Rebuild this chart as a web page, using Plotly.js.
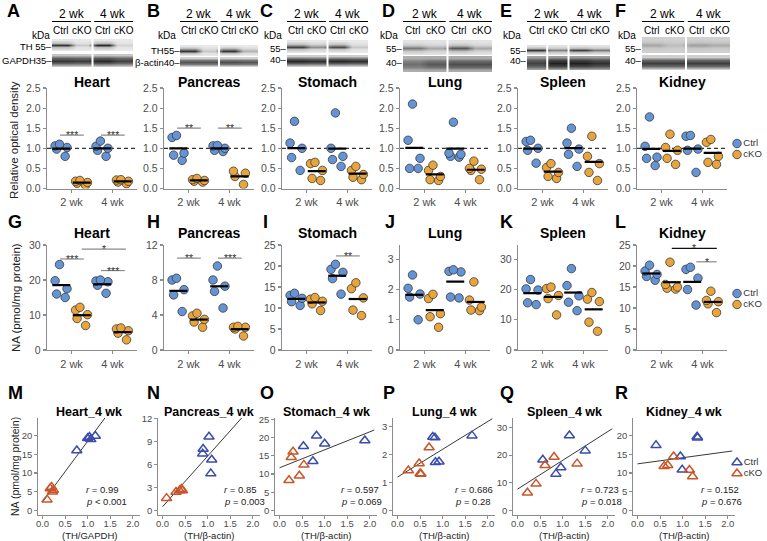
<!DOCTYPE html>
<html><head><meta charset="utf-8">
<script src="https://cdn.plot.ly/plotly-3.0.1.min.js"></script>
<style>html,body{margin:0;padding:0;background:#fff}#chart{width:767px;height:541px}</style>
</head><body><div id="chart"></div>
<script>
// ---------------- DATA ----------------
const organs = ["Heart","Pancreas","Stomach","Lung","Spleen","Kidney"];
const weeks = ["2 wk","4 wk"];
const groups = ["Ctrl","cKO"];
const blotLabels = ["A","B","C","D","E","F"];
const naLabels = ["G","H","I","J","K","L"];
const corrLabels = ["M","N","O","P","Q","R"];
const corrXTitles = ["(TH/GAPDH)","(TH/β-actin)","(TH/β-actin)","(TH/β-actin)","(TH/β-actin)","(TH/β-actin)"];

// Relative optical density (A-F): [Ctrl 2wk, cKO 2wk, Ctrl 4wk, cKO 4wk]
const odHeart    = [[1.10,1.06,1.02,0.98,0.80],[0.20,0.18,0.15,0.13,0.08],[1.18,1.05,1.00,0.95,0.80],[0.22,0.21,0.18,0.16,0.12]];
const odPancreas = [[1.32,1.27,0.88,0.83,0.70],[0.25,0.22,0.20,0.18,0.16],[1.07,1.06,1.00,0.95,0.92],[0.43,0.38,0.30,0.10]];
const odStomach  = [[1.67,1.13,1.00,0.77,0.45],[0.65,0.62,0.45,0.25,0.20],[1.88,1.00,0.80,0.72,0.55],[0.55,0.45,0.35,0.28,0.22]];
const odLung     = [[2.10,1.20,0.75,0.50,0.50],[0.58,0.45,0.30,0.22,0.20],[1.65,0.88,0.85,0.80,0.78],[0.68,0.50,0.48,0.45,0.22]];
const odSpleen   = [[1.20,1.17,1.00,0.95,0.63],[0.62,0.52,0.40,0.30,0.25],[1.50,1.13,0.98,0.85,0.55],[1.30,0.80,0.62,0.40,0.20]];
const odKidney   = [[1.78,1.05,0.78,0.75,0.57],[1.35,1.02,0.95,0.75,0.60],[1.32,1.30,0.98,0.95,0.40],[1.22,1.15,0.80,0.65,0.60]];

// NA (pmol/mg protein) (G-L): [Ctrl 2wk, cKO 2wk, Ctrl 4wk, cKO 4wk]
const naHeart    = [[24.4,19.8,17.5,16.0,15.0],[12.2,11.4,10.1,9.0,7.0],[20.0,19.7,19.5,18.5,16.2],[6.3,6.0,5.5,4.8,2.9]];
const naPancreas = [[8.2,8.0,6.9,6.3,4.4],[4.2,3.9,3.5,3.2,2.6],[9.6,8.0,7.3,6.7,4.8],[2.7,2.6,2.6,2.4,1.6]];
const naStomach  = [[13.5,13.0,12.3,11.5,10.6],[12.5,12.1,11.6,11.0,9.4],[20.4,19.2,18.5,17.0,13.3],[16.0,14.6,12.4,9.5,8.2]];
const naLung     = [[2.48,2.04,1.85,1.75,1.00],[1.84,1.70,1.20,1.10,0.75],[2.65,2.60,2.58,1.75,1.72],[2.25,1.65,1.42,1.32,1.30]];
const naSpleen   = [[23.3,20.2,19.8,15.6,15.0],[20.8,20.3,18.0,17.0,11.6],[26.9,21.3,17.9,15.8,13.0],[19.0,16.8,16.0,9.2,6.2]];
const naKidney   = [[20.2,18.8,18.0,17.5,16.6],[20.9,15.6,15.0,14.7,14.5],[19.7,19.2,17.1,14.4,10.7],[14.0,11.8,11.5,11.0,8.9]];

// Correlation at 4 wk (M-R): TH ratio (x) and NA (y), Ctrl and cKO
const thCtrl4 = [[0.76,1.00,1.04,1.07,1.17],[1.03,0.90,0.89,1.09,1.07],[0.53,0.82,1.00,0.74,1.89],[0.78,0.83,1.65,0.84,0.92],[1.15,1.50,0.56,0.96,0.85],[0.41,1.32,1.33,0.95,0.99]];
const naCtrl4 = [[16.0,19.3,19.6,19.0,19.9],[9.6,8.0,7.4,6.6,4.8],[17.6,20.5,18.3,13.5,19.2],[2.62,2.60,2.67,1.72,1.74],[27.1,21.6,18.3,15.5,13.2],[17.4,19.7,19.4,14.4,10.9]];
const thCko4  = [[0.10,0.17,0.20,0.22,0.24],[0.09,0.30,0.38,0.42,0.44],[0.30,0.26,0.54,0.44,0.21],[0.70,0.48,0.50,0.24,0.52],[0.81,0.61,1.32,0.41,0.22],[0.80,0.59,0.67,1.15,1.22]];
const naCko4  = [[2.9,5.9,6.3,5.0,5.5],[1.6,2.4,2.6,2.8,2.6],[16.1,14.6,12.5,9.5,8.3],[2.25,1.68,1.32,1.43,1.30],[19.3,16.3,16.9,9.6,6.4],[14.4,11.8,12.1,10.8,9.1]];
const rText = ["0.99","0.85","0.597","0.686","0.723","0.152"];
const pText = ["< 0.001","= 0.003","= 0.069","= 0.28","= 0.018","= 0.676"];

// Western blot band darkness (0-1), lanes: Ctrl 2wk, cKO 2wk, Ctrl 4wk, cKO 4wk
const thBand = [[0.85,0.20,0.90,0.15],[0.85,0.20,0.85,0.30],[0.80,0.45,0.75,0.20],[0.55,0.35,0.70,0.35],[0.85,0.50,0.80,0.55],[0.35,0.25,0.38,0.32]];
const lcBand = [[0.85,0.82,0.90,0.80],[0.72,0.72,0.75,0.72],[0.92,0.88,0.92,0.88],[0.60,0.70,0.75,0.75],[0.80,0.95,0.95,0.88],[0.82,0.82,0.82,0.82]];
const thName = ["TH ","TH","","","",""];
const lcName = ["GAPDH","β-actin","","","",""];
const thKDa = ["55","55","55","55","55","55"];
const lcKDa = ["35","40","40","40","40","40"];

// Significance marks
const sigMarks = [
  {p:0,x0:0.72,x1:1.30,y:1.33,t:"***"},{p:0,x0:1.72,x1:2.30,y:1.33,t:"***"},
  {p:1,x0:0.72,x1:1.30,y:1.50,t:"**"},{p:1,x0:1.72,x1:2.30,y:1.50,t:"**"},
  {p:6,x0:0.72,x1:1.30,y:26.0,t:"***"},{p:6,x0:1.25,x1:2.33,y:28.8,t:"*"},{p:6,x0:1.72,x1:2.30,y:22.7,t:"***"},
  {p:7,x0:0.72,x1:1.30,y:10.5,t:"**"},{p:7,x0:1.72,x1:2.30,y:10.5,t:"***"},
  {p:8,x0:1.72,x1:2.30,y:22.4,t:"**"},
  {p:11,x0:1.25,x1:2.35,y:24.2,t:"*",k:1},{p:11,x0:1.85,x1:2.35,y:21.0,t:"*"}
];

// ---------------- STYLE / LAYOUT ----------------
const W = 767, H = 541;
const FONT = "Liberation Sans, Arial, Helvetica, sans-serif";
const FILL = ["#6494d6","#e9a43b"];
const TRI = ["#3b4cab","#c9552a"];
const TXT = "#4d4d4d";
const dx = p => p / W;
const dy = p => 1 - p / H;

const colL12 = [47,164,282,400,518,637], w12 = 90;
const colL3 = [38,158,275,393,513,633], w3 = 102;
const odSets = [odHeart,odPancreas,odStomach,odLung,odSpleen,odKidney];
const naSets = [naHeart,naPancreas,naStomach,naLung,naSpleen,naKidney];
const naRange = [[0,30],[0,12],[0,25],[0,3.47],[0,34.7],[0,25]];
const naDtick = [10,4,5,1,10,5];
const cRange = [[-1.2,24.7],[-0.6,12.05],[-1.25,25.35],[-0.16,3.3],[-1.65,33.4],[-1.2,24.7]];
const cDtick = [5,3,5,1,10,5];
const rpX = [0.94,1.34,1.34,1.25,1.39,1.39];
const blotBox = [[52,133,39,51,54,67],[180,258,45,56,57,67],[287,368,40,53,55,67],[403,492,40,55,56,72],[527,610,45,55,56,70],[642,730,37,53,55,70]];
const thLabY = [47,51,48,48,51,48], lcLabY = [61,62,60,62,61,61];
const kdaX = [41,167,273,389,512,627];
const sepLanes = [[2.5],[2.5],[2.5],[2.5],[1.5,2.5],[2.5]];
const letterX1 = [6,146,259,381,499,614], letterX2 = [7,146,262,384,499,614], letterX3 = [7,146,259,382,499,614];

const data = [], annotations = [], shapes = [];
const layout = {width:W,height:H,margin:{l:0,r:0,t:0,b:0},paper_bgcolor:"#fff",plot_bgcolor:"rgba(0,0,0,0)",
  showlegend:false,font:{family:FONT,color:"#000"},boxmode:"overlay",hovermode:"closest"};

const axBase = {showgrid:false,zeroline:false,showline:true,linecolor:"#8c8c8c",linewidth:1.3,ticks:"outside",ticklen:3,
  tickcolor:"#8c8c8c",tickwidth:1.1,tickfont:{family:FONT,size:10.5,color:TXT},fixedrange:true};
const aid = i => (i === 0 ? "" : String(i + 1));
const mean = a => a.reduce((s,v)=>s+v,0)/a.length;

function txt(o){ annotations.push(Object.assign({showarrow:false,xanchor:"center",yanchor:"middle",borderpad:0,font:{family:FONT,size:11,color:"#000"}},o)); }

function dotPanel(idx, sets, left, top, bot, yr, dt, fmt, title, titleY){
  const id = aid(idx);
  layout["xaxis"+id] = Object.assign({}, axBase, {domain:[dx(left),dx(left+w12)],range:[0.4,2.6],tickvals:[1,2],ticktext:weeks,anchor:"y"+id,tickfont:{family:FONT,size:11,color:TXT}});
  layout["yaxis"+id] = Object.assign({}, axBase, {domain:[dy(bot),dy(top)],range:yr,dtick:dt,tick0:0,tickformat:fmt,anchor:"x"+id});
  const mx = [], my = [];
  sets.forEach((arr,k)=>{
    const wk = Math.floor(k/2), g = k%2;
    const p = wk + 1 + (g === 0 ? -0.25 : 0.25);
    data.push({type:"box",x:arr.map(()=>p),y:arr,xaxis:"x"+id,yaxis:"y"+id,boxpoints:"all",jitter:0.9,pointpos:0,width:0.4,
      fillcolor:"rgba(0,0,0,0)",line:{width:0,color:"rgba(0,0,0,0)"},whiskerwidth:0,
      marker:{size:8.5,color:FILL[g],line:{color:"#3a3a3a",width:0.8}},name:groups[g]+" "+weeks[wk],hoverinfo:"y",showlegend:false});
    const m = mean(arr);
    mx.push(p-0.22,p+0.22,null); my.push(m,m,null);
  });
  data.push({type:"scatter",mode:"lines",x:mx,y:my,xaxis:"x"+id,yaxis:"y"+id,line:{color:"#000",width:2.2},hoverinfo:"skip",showlegend:false});
  txt({xref:"x"+id+" domain",x:0.5,yref:"paper",y:dy(titleY),text:"<b>"+title+"</b>",font:{family:FONT,size:14,color:"#000"}});
}

// Row 1 (A-F) and row 2 (G-L)
for(let i=0;i<6;i++){
  dotPanel(i, odSets[i], colL12[i], 88, 188.5, [0,2.5], 0.5, ".1f", organs[i], 82);
  shapes.push({type:"line",xref:"x"+aid(i)+" domain",x0:0,x1:1,yref:"y"+aid(i),y0:1,y1:1,layer:"below",line:{color:"#000",width:1,dash:"4px,3px"}});
  dotPanel(6+i, naSets[i], colL12[i], 245, 350, naRange[i], naDtick[i], "", organs[i], 233);
  txt({xref:"paper",x:dx(letterX1[i]),xanchor:"left",yref:"paper",y:1,yanchor:"top",text:"<b>"+blotLabels[i]+"</b>",font:{family:FONT,size:18,color:"#000"}});
  txt({xref:"paper",x:dx(letterX2[i]),xanchor:"left",yref:"paper",y:dy(222),text:"<b>"+naLabels[i]+"</b>",font:{family:FONT,size:18,color:"#000"}});
  txt({xref:"paper",x:dx(letterX3[i]),xanchor:"left",yref:"paper",y:dy(393),text:"<b>"+corrLabels[i]+"</b>",font:{family:FONT,size:18,color:"#000"}});
}

// Significance bars
sigMarks.forEach(s=>{
  const id = aid(s.p);
  const col = s.k ? "#111" : "#8a8a8a";
  shapes.push({type:"line",xref:"x"+id,yref:"y"+id,x0:s.x0,x1:s.x1,y0:s.y,y1:s.y,line:{color:col,width:1.2}});
  txt({xref:"x"+id,yref:"y"+id,x:(s.x0+s.x1)/2,y:s.y,yanchor:"bottom",yshift:-7,text:s.t,font:{family:FONT,size:10.5,color:"#333"}});
});

// Row 3 correlation panels (M-R)
for(let i=0;i<6;i++){
  const idx = 12+i, id = aid(idx);
  const tf = {family:FONT,size:9.5,color:TXT};
  layout["xaxis"+id] = Object.assign({}, axBase, {domain:[dx(colL3[i]),dx(colL3[i]+w3)],range:[-0.1,2.16],dtick:0.5,tick0:0,tickformat:".1f",anchor:"y"+id,tickfont:tf,ticklen:2.5,ticklabelstandoff:-3});
  layout["yaxis"+id] = Object.assign({}, axBase, {domain:[dy(515),dy(418)],range:cRange[i],dtick:cDtick[i],tick0:0,anchor:"x"+id,tickfont:tf,ticklen:2.5});
  const xs = thCtrl4[i].concat(thCko4[i]), ys = naCtrl4[i].concat(naCko4[i]);
  const mxv = mean(xs), myv = mean(ys);
  let sxy=0, sxx=0; xs.forEach((v,k)=>{sxy+=(v-mxv)*(ys[k]-myv); sxx+=(v-mxv)*(v-mxv);});
  const b = sxy/sxx, a = myv - b*mxv;
  data.push({type:"scatter",mode:"lines",x:[0,2.1],y:[a,a+b*2.1],xaxis:"x"+id,yaxis:"y"+id,line:{color:"#222",width:0.9},hoverinfo:"skip",showlegend:false});
  [[thCtrl4[i],naCtrl4[i]],[thCko4[i],naCko4[i]]].forEach((pair,g)=>{
    data.push({type:"scatter",mode:"markers",x:pair[0],y:pair[1],xaxis:"x"+id,yaxis:"y"+id,name:groups[g],
      marker:{symbol:"triangle-up-open",size:9,color:TRI[g],line:{width:1.5,color:TRI[g]}},cliponaxis:false,showlegend:false});
  });
  txt({xref:"x"+id+" domain",x:0.5,yref:"paper",y:dy(412),text:"<b>"+organs[i]+"_4 wk</b>",font:{family:FONT,size:12.5,color:"#000"}});
  txt({xref:"x"+id+" domain",x:0.5,yref:"paper",y:dy(535.3),text:corrXTitles[i],font:{family:FONT,size:9.5,color:"#222"}});
  txt({xref:"x"+id,x:rpX[i],xanchor:"left",yref:"y"+id+" domain",y:0.265,text:"<i>r</i> = "+rText[i],font:{family:FONT,size:9.5,color:"#222"}});
  txt({xref:"x"+id,x:rpX[i],xanchor:"left",yref:"y"+id+" domain",y:0.135,text:"<i>p</i> "+pText[i],font:{family:FONT,size:9.5,color:"#222"}});
}

// Y-axis titles
txt({xref:"paper",x:dx(14),yref:"paper",y:dy(140),textangle:-90,text:"Relative optical density",font:{family:FONT,size:11.5,color:"#222"}});
txt({xref:"paper",x:dx(16),yref:"paper",y:dy(298),textangle:-90,text:"NA (pmol/mg protein)",font:{family:FONT,size:11.5,color:"#222"}});
txt({xref:"paper",x:dx(15),yref:"paper",y:dy(467),textangle:-90,text:"NA (pmol/mg protein)",font:{family:FONT,size:10.5,color:"#222"}});

// Western blots (A-F)
const thProf = [0.02,0.25,1,0.25,0.02];
const lcProf = [0.12,0.75,1,0.75,0.12];
const bgTH = [0.05,0.05,0.05,0.08,0.08,0.16];
const bgLC = [0.12,0.08,0.08,0.28,0.32,0.08];
const lanes = [1,2,3,4];
for(let i=0;i<6;i++){
  const id = String(19+i);
  const [x0,x1,t0,t1,l0,l1] = blotBox[i];
  layout["xaxis"+id] = {domain:[dx(x0),dx(x1)],range:[0.55,4.45],visible:false,fixedrange:true,anchor:"y"+id};
  layout["yaxis"+id] = {domain:[dy(l1),dy(t0)],range:[-l1,-t0],visible:false,fixedrange:true,anchor:"x"+id};
  const xs = []; lanes.forEach(L=>xs.push(L-0.3,L,L+0.3));
  const strip = (band,bg,prof,top,bot)=>{
    const ys = [], z = [], n = prof.length;
    for(let k=0;k<n;k++){
      ys.push(-bot + (k+0.5)*(bot-top)/n);
      z.push(xs.map((_,c)=> bg + (band[Math.floor(c/3)]-bg)*prof[k]));
    }
    data.push({type:"heatmap",x:xs,y:ys,z:z,zsmooth:"best",colorscale:[[0,"#f5f5f5"],[1,"#151515"]],zmin:0,zmax:1,showscale:false,xaxis:"x"+id,yaxis:"y"+id,hoverinfo:"skip"});
  };
  strip(thBand[i],bgTH[i],thProf,t0,t1);
  strip(lcBand[i],bgLC[i],lcProf,l0,l1);
  sepLanes[i].forEach(s=>shapes.push({type:"line",xref:"x"+id,yref:"y"+id,x0:s,x1:s,y0:-l1,y1:-t0,line:{color:"#fff",width:2}}));
  [[1.5,"2 wk",0.5,2.42],[3.5,"4 wk",2.58,4.5]].forEach(h=>{
    txt({xref:"x"+id,x:h[0],yref:"paper",y:dy(14),text:h[1],font:{family:FONT,size:12,color:"#000"}});
    shapes.push({type:"line",xref:"x"+id,yref:"paper",x0:h[2],x1:h[3],y0:dy(21.5),y1:dy(21.5),line:{color:"#000",width:1.2}});
  });
  lanes.forEach((L,k)=>txt({xref:"x"+id,x:L,yref:"paper",y:dy(31),text:groups[k%2],font:{family:FONT,size:10,color:"#000"}}));
  txt({xref:"paper",x:dx(kdaX[i]),yref:"paper",y:dy(36),text:"kDa",font:{family:FONT,size:10,color:"#000"}});
  txt({xref:"paper",x:dx(x0+1),xanchor:"right",yref:"paper",y:dy(thLabY[i]),text:thName[i]+thKDa[i]+"–",font:{family:FONT,size:9.5,color:"#000"}});
  txt({xref:"paper",x:dx(x0+1),xanchor:"right",yref:"paper",y:dy(lcLabY[i]),text:lcName[i]+lcKDa[i]+"–",font:{family:FONT,size:9.5,color:"#000"}});
}

// Legends (rows 1-3)
const legendRows = [[138,160,"circle",FILL,true],[288,310,"circle",FILL,true],[457,479,"triangle-up-open",TRI,false]];
legendRows.forEach((lr,j)=>{
  const id = String(25+j);
  layout["xaxis"+id] = {domain:[dx(727),dx(767)],range:[-1,3],visible:false,fixedrange:true,anchor:"y"+id};
  layout["yaxis"+id] = {domain:[dy(lr[1]),dy(lr[0])],range:[-0.5,1.5],type:"category",categoryorder:"array",categoryarray:["cKO","Ctrl"],visible:false,fixedrange:true,anchor:"x"+id};
  data.push({type:"scatter",mode:"markers+text",x:groups.map(()=>0),y:groups,text:groups,textposition:"middle right",cliponaxis:false,
    textfont:{family:FONT,size:9.5,color:"#333"},xaxis:"x"+id,yaxis:"y"+id,hoverinfo:"skip",showlegend:false,
    marker:{symbol:lr[2],size:lr[4]?8.5:9,color:lr[3],line:lr[4]?{color:"#3a3a3a",width:0.8}:{width:1.5,color:lr[3]}}});
});

layout.annotations = annotations;
layout.shapes = shapes;
Plotly.newPlot("chart", data, layout, {staticPlot:true, displayModeBar:false});
</script></body></html>
